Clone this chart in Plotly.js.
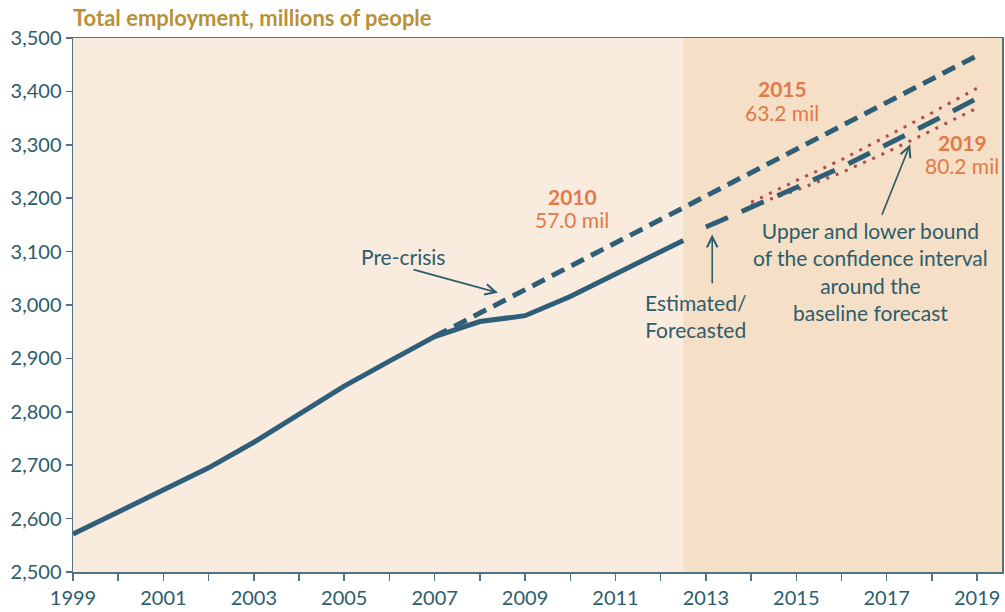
<!DOCTYPE html>
<html>
<head>
<meta charset="utf-8">
<script src="https://cdn.plot.ly/plotly-3.0.1.min.js"></script>
<style>html,body{margin:0;padding:0;background:#fff;}#chart{width:1005px;height:612px;}</style>
</head>
<body>
<div id="chart"></div>
<script>
// ---- data ----
const actualYears = [1999,2000,2001,2002,2003,2004,2005,2006,2007,2008,2009,2010,2011,2012,2012.5];
const actualValues = [2571,2613,2654,2695,2743,2795,2848,2895,2941,2969,2980,3016,3058,3100,3121];
const precrisisYears = [2007,2008,2009,2010,2011,2012,2013,2014,2015,2016,2017,2018,2019];
const precrisisValues = [2941,2985,3029,3073,3116,3160,3204,3248,3292,3335,3379,3423,3467];
const forecastYears = [2013,2014,2015,2016,2017,2018,2019];
const forecastValues = [3146,3182,3220,3258,3300,3343,3387];
const boundYears = [2014,2015,2016,2017,2018,2019];
const upperValues = [3192,3233,3272,3316,3360,3406];
const lowerValues = [3186,3215,3248,3286,3327,3369];
const yTicks = [2500,2600,2700,2800,2900,3000,3100,3200,3300,3400,3500];
const yTickLabels = ['2,500','2,600','2,700','2,800','2,900','3,000','3,100','3,200','3,300','3,400','3,500'];
const xTicks = [1999,2001,2003,2005,2007,2009,2011,2013,2015,2017,2019];
const forecastStart = 2012.5;

const FONT = 'Lato, "Open Sans", sans-serif';
const BLUE = '#2f5f78';
const TEAL = '#2d5d6b';
const ORANGE = '#e07a47';
const RED = '#b04a55';

const traces = [
  {x: boundYears, y: upperValues, mode:'lines', line:{color:RED, width:3, dash:'3px,7px'}, hoverinfo:'skip'},
  {x: boundYears, y: lowerValues, mode:'lines', line:{color:RED, width:3, dash:'3px,7px'}, hoverinfo:'skip'},
  {x: precrisisYears, y: precrisisValues, mode:'lines', line:{color:BLUE, width:5, dash:'14px,8px'}, hoverinfo:'skip'},
  {x: forecastYears, y: forecastValues, mode:'lines', line:{color:BLUE, width:5, dash:'24px,15px'}, hoverinfo:'skip'},
  {x: actualYears, y: actualValues, mode:'lines', line:{color:BLUE, width:5}, hoverinfo:'skip'}
];

function txt(x, y, text, opts) {
  return Object.assign({x:x, y:y, xref:'x', yref:'y', text:text, showarrow:false,
    font:{family:FONT, size:21, color:TEAL}, xanchor:'center', yanchor:'middle'}, opts||{});
}
function arrow(xHead, yHead, xTail, yTail) {
  return {x:xHead, y:yHead, ax:xTail, ay:yTail, xref:'x', yref:'y', axref:'x', ayref:'y',
    text:'', showarrow:true, arrowhead:5, arrowsize:1.3, arrowwidth:1.6, arrowcolor:TEAL};
}
const OF = {family:FONT, size:21, color:ORANGE};

const annotations = [
  txt(2006.3, 3091, 'Pre-crisis'),
  arrow(2008.4, 3023, 2006.5, 3067),
  txt(2010.04, 3203, '<b>2010</b>', {font:OF}),
  txt(2010.04, 3160, '57.0 mil', {font:OF}),
  txt(2014.69, 3406, '<b>2015</b>', {font:OF}),
  txt(2014.69, 3361, '63.2 mil', {font:OF}),
  txt(2018.67, 3305, '<b>2019</b>', {font:OF}),
  txt(2018.67, 3262, '80.2 mil', {font:OF}),
  txt(2012.76, 2980, 'Estimated/<br>Forecasted'),
  arrow(2013.14, 3132, 2013.14, 3038),
  txt(2016.63, 3062, 'Upper and lower bound<br>of the confidence interval<br>around the<br>baseline forecast'),
  arrow(2017.52, 3301, 2016.88, 3166)
];

const layout = {
  width:1005, height:612,
  margin:{l:73, r:3, t:38, b:40, pad:0},
  paper_bgcolor:'#ffffff',
  plot_bgcolor:'#faebdf',
  showlegend:false,
  title:{text:'<b>Total employment, millions of people</b>', x:73/1005, xanchor:'left', xref:'container',
    y:1-18/612, yanchor:'middle', yref:'container',
    font:{family:FONT, size:22, color:'#b8903a'}},
  xaxis:{range:[1999, 2019.55], tickvals:xTicks, ticktext:xTicks.map(String),
    ticks:'outside', ticklen:7, tickwidth:1.5, tickcolor:'#4d7480',
    minor:{dtick:1, tick0:1999, ticks:'outside', ticklen:7, tickwidth:1.5, tickcolor:'#4d7480'},
    showline:true, linecolor:'#4d7480', linewidth:1.5, mirror:true,
    showgrid:false, zeroline:false, fixedrange:true,
    tickfont:{family:FONT, size:20, color:TEAL}},
  yaxis:{range:[2500,3500], tickvals:yTicks, ticktext:yTickLabels,
    ticks:'outside', ticklen:6, tickwidth:1.5, tickcolor:'#4d7480',
    showline:true, linecolor:'#4d7480', linewidth:1.5, mirror:true,
    showgrid:false, zeroline:false, fixedrange:true,
    tickfont:{family:FONT, size:20, color:TEAL}},
  shapes:[{type:'rect', xref:'x', yref:'paper', x0:forecastStart, x1:2019.55, y0:0, y1:1,
    fillcolor:'#f5dfc6', line:{width:0}, layer:'below'}],
  annotations:annotations
};

Plotly.newPlot('chart', traces, layout, {staticPlot:true, displayModeBar:false});
</script>
</body>
</html>
